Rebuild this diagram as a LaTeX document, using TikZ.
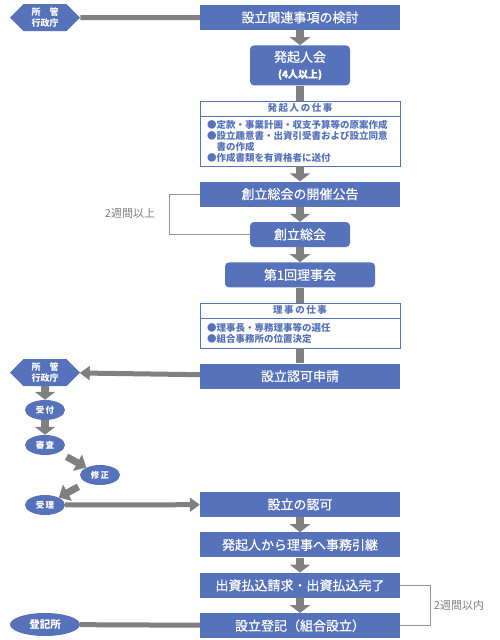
\documentclass[tikz,border=0pt]{standalone}
\usepackage{fontspec}
\setmainfont{Noto Sans CJK JP}
\newfontfamily\boxfont{Noto Sans CJK JP}[FakeBold=0.6]
\usetikzlibrary{arrows.meta, positioning, shapes.geometric, shapes.symbols}
\definecolor{flowblue}{RGB}{85,114,186}
\definecolor{flowgray}{RGB}{128,128,128}

\begin{document}
\begin{tikzpicture}[
  x=1pt, y=-1pt,
  box/.style={rectangle, fill=flowblue, text=white, minimum width=200pt,
              minimum height=25pt, inner sep=0pt, align=center,
              font=\boxfont\fontsize{13}{15}\selectfont},
  rbox/.style={box, rounded corners=4pt, minimum width=100pt},
  hdr/.style={rectangle, draw=flowblue, fill=white, text=flowblue,
              minimum width=200pt, minimum height=15pt, inner sep=0pt,
              font=\bfseries\fontsize{9.5}{11}\selectfont},
  memo/.style={rectangle, draw=flowblue, fill=white, text=flowblue,
               text width=186pt, inner xsep=7pt, inner ysep=0pt, align=left,
               font=\bfseries\fontsize{9.5}{11}\selectfont},
  office/.style={signal, signal to=west and east, signal pointer angle=90,
                 fill=flowblue, text=white, minimum width=70pt, minimum height=27pt,
                 inner sep=0pt, align=center, font=\bfseries\fontsize{9}{11}\selectfont},
  oval/.style={ellipse, fill=flowblue, text=white, minimum width=40pt,
               minimum height=20pt, inner sep=0pt, font=\bfseries\fontsize{8.5}{10}\selectfont},
  arr/.style={-{Triangle[width=20pt,length=8pt]}, line width=8pt, flowgray},
  bar/.style={line width=8pt, flowgray},
  harr/.style={-{Triangle[width=14pt,length=10pt]}, line width=5pt, flowgray},
  hbar/.style={line width=5pt, flowgray},
  darr/.style={-{Triangle[width=18pt,length=10pt]}, line width=7pt, flowgray},
  bracket/.style={draw=flowgray!85, line width=0.8pt},
  note/.style={text=flowgray, font=\fontsize{11}{13}\selectfont},
  node distance=15pt
]
\useasboundingbox (0,0) rectangle (500,640);

\node[box] (kento) at (300,17.5) {設立関連事項の検討};
\node[rbox, minimum height=40pt, below=of kento] (hokinin)
      {発起人会\\[1pt]{\bfseries\fontsize{10}{11}\selectfont (4人以上)}};
\node[hdr, below=of hokinin] (shigoto1) {発\,起\,人\,の\,仕\,事};
\node[memo, minimum height=50pt, below=0pt of shigoto1] (memo1)
      {●定款・事業計画・収支予算等の原案作成\\
       ●設立趣意書・出資引受書および設立同意\\
       \hspace*{1em}書の作成\\
       ●作成書類を有資格者に送付};
\node[box, below=of memo1] (kokoku) {創立総会の開催公告};
\node[rbox, below=of kokoku] (sokai) {創立総会};
\node[rbox, minimum width=150pt, below=of sokai] (rijikai) {第1回理事会};
\node[hdr, below=of rijikai] (shigoto2) {理\,事\,の\,仕\,事};
\node[memo, minimum height=30pt, below=0pt of shigoto2] (memo2)
      {●理事長・専務理事等の選任\\
       ●組合事務所の位置決定};
\node[box, below=of memo2] (shinsei) {設立認可申請};

\node[box] (ninka) at (300,504.5) {設立の認可};
\node[box, below=of ninka] (hikitsugi) {発起人から理事へ事務引継};
\node[box, below=of hikitsugi] (haraikomi) {出資払込請求・出資払込完了};
\node[box, below=of haraikomi] (toki) {設立登記（組合設立）};

\node[office] (gyosei1) at (45,17.5) {所\hspace{1em}管\\行政庁};
\node[office] (gyosei2) at (45,372.5) {所\hspace{1em}管\\行政庁};
\node[oval] (uketsuke) at (45,410) {受\,付};
\node[oval] (shinsa) at (45,445) {審\,査};
\node[oval] (shusei) at (100,475) {修\,正};
\node[oval] (juri) at (45,505) {受\,理};
\node[oval, minimum width=70pt, minimum height=23pt,
      font=\bfseries\fontsize{10.5}{12}\selectfont] (tokisho) at (45,624.5) {登記所};

\draw[hbar] (gyosei1) -- (kento);
\draw[arr] (kento) -- (hokinin);
\draw[bar] (hokinin) -- (shigoto1);
\draw[arr] (memo1) -- (kokoku);
\draw[arr] (kokoku) -- (sokai);
\draw[arr] (sokai) -- (rijikai);
\draw[bar] (rijikai) -- (shigoto2);
\draw[bar] (memo2) -- (shinsei);
\draw[harr] (shinsei) -- (gyosei2);
\draw[arr] (gyosei2) -- (uketsuke);
\draw[arr] (uketsuke) -- (shinsa);
\draw[darr, shorten <=9pt] (shinsa) -- (shusei);
\draw[darr, shorten <=9pt] (shusei) -- (juri);
\draw[harr] (juri) -- (ninka);
\draw[arr] (ninka) -- (hikitsugi);
\draw[arr] (hikitsugi) -- (haraikomi);
\draw[arr] (haraikomi) -- (toki);
\draw[hbar] (tokisho) -- (toki);

\draw[bracket] (kokoku.west) -- ++(-30,0) |- (sokai.west);
\node[note] (weeks1) at (130,213) {2週間以上};
\draw[bracket] (haraikomi.east) -- ++(30,0) |- (toki.east);
\node[note] (weeks2) at (459,605) {2週間以内};
\end{tikzpicture}
\end{document}
